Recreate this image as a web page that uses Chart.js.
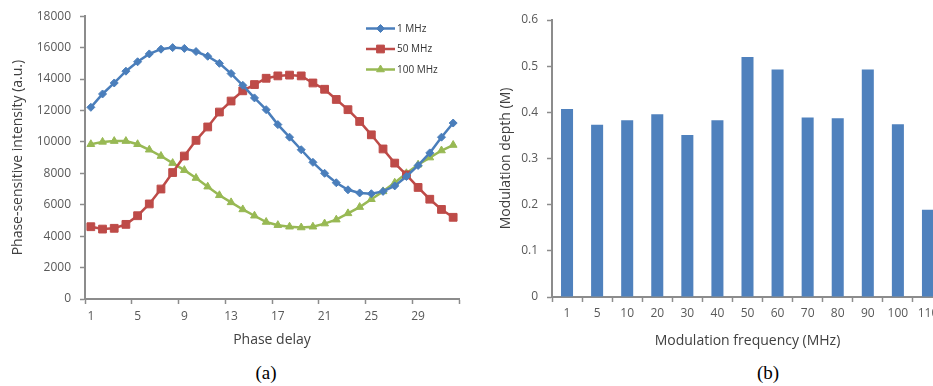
<!DOCTYPE html>
<html>
<head>
<meta charset="utf-8">
<script src="https://cdn.jsdelivr.net/npm/chart.js@4.4.0/dist/chart.umd.min.js"></script>
<style>
  html, body { margin: 0; padding: 0; background: #fff; overflow: hidden; width: 933px; height: 386px; }
  .box { position: absolute; top: 0; }
  .cap { position: absolute; font-family: "Liberation Serif", serif; font-size: 19px; color: #000; transform: translate(-50%, -50%); }
</style>
</head>
<body>
<div class="box" style="left:0px"><canvas id="phase" width="470" height="355"></canvas></div>
<div class="box" style="left:480px"><canvas id="depth" width="470" height="355"></canvas></div>
<div class="cap" style="left:266px; top:373px">(a)</div>
<div class="cap" style="left:768px; top:373px">(b)</div>
<script>
// (a) phase-sensitive intensity vs phase delay
const phaseDelay = ['1','2','3','4','5','6','7','8','9','10','11','12','13','14','15','16',
                    '17','18','19','20','21','22','23','24','25','26','27','28','29','30','31','32']
const mhz1 = [12200, 13050, 13750, 14500, 15100, 15600, 15900, 16000, 15950, 15750, 15450, 15000,
              14350, 13600, 12800, 12050, 11100, 10300, 9500, 8700, 8000, 7400, 6950, 6750,
              6700, 6850, 7200, 7800, 8500, 9300, 10300, 11200]
const mhz50 = [4600, 4450, 4500, 4750, 5300, 6050, 7000, 8050, 9100, 10100, 10950, 11900,
               12600, 13250, 13650, 14050, 14200, 14250, 14200, 13750, 13350, 12700, 12050, 11300,
               10450, 9550, 8650, 7900, 7100, 6350, 5700, 5200]
const mhz100 = [9850, 10000, 10050, 10050, 9850, 9500, 9100, 8650, 8200, 7700, 7150, 6600,
                6150, 5700, 5300, 4900, 4700, 4600, 4550, 4600, 4800, 5050, 5450, 5850,
                6350, 6850, 7400, 8000, 8550, 9000, 9450, 9800]

// (b) modulation depth vs frequency
const freqLabels = ['1','5','10','20','30','40','50','60','70','80','90','100','110']
const depth = [0.407, 0.373, 0.383, 0.396, 0.351, 0.383, 0.520, 0.493, 0.389, 0.387, 0.493, 0.374, 0.189]

const axisGray = '#8c8c8c'
const tickText = '#595959'
const titleText = '#404040'
const fontFam = '"Open Sans", sans-serif'

// small vertical legend in the top-right of the plot (Excel style)
const sideLegend = {
    id: 'sideLegend',
    afterDraw(chart) {
        const ctx = chart.ctx
        const x0 = chart.chartArea.left + 281
        ctx.save()
        ctx.font = '10px ' + fontFam
        ctx.textBaseline = 'middle'
        chart.data.datasets.forEach((ds, i) => {
            const y = 28.5 + i * 20.5
            ctx.strokeStyle = ds.borderColor
            ctx.lineWidth = ds.borderWidth
            ctx.beginPath()
            ctx.moveTo(x0, y)
            ctx.lineTo(x0 + 29, y)
            ctx.stroke()
            ctx.fillStyle = ds.pointBackgroundColor
            ctx.strokeStyle = ds.pointBorderColor
            ctx.lineWidth = 1
            Chart.helpers.drawPoint(ctx, { pointStyle: ds.pointStyle, radius: ds.pointRadius, rotation: 0, borderWidth: 1 }, x0 + 14.5, y)
            ctx.fillStyle = '#333'
            ctx.fillText(ds.label, x0 + 31, y + 0.5)
        })
        ctx.restore()
    }
}

function lineSet(label, data, color, style, r) {
    return {
        label: label,
        data: data,
        borderColor: color,
        backgroundColor: color,
        borderWidth: 2.5,
        pointStyle: style,
        pointRadius: r,
        pointBackgroundColor: color,
        pointBorderColor: color,
        pointBorderWidth: 1,
        tension: 0
    }
}

new Chart(document.getElementById('phase'), {
    type: 'line',
    data: {
        labels: phaseDelay,
        datasets: [
            lineSet('1 MHz', mhz1, '#4a7ebb', 'rectRot', 4),
            lineSet('50 MHz', mhz50, '#be4b48', 'rect', 5.5),
            lineSet('100 MHz', mhz100, '#98b954', 'triangle', 4.5)
        ]
    },
    options: {
        responsive: false,
        animation: false,
        layout: { padding: { top: 15, right: 11, left: 0, bottom: 0 } },
        plugins: { legend: { display: false }, tooltip: { enabled: false } },
        scales: {
            x: {
                offset: true,
                border: { color: axisGray, width: 2 },
                grid: {
                    offset: true,
                    drawOnChartArea: false,
                    tickLength: 5,
                    tickWidth: 1.5,
                    tickColor: c => (c.index === undefined || c.index % 4 === 0) ? axisGray : 'rgba(0,0,0,0)'
                },
                ticks: {
                    autoSkip: false,
                    maxRotation: 0,
                    padding: 5,
                    color: tickText,
                    font: { family: fontFam, size: 12 },
                    callback: (v, i) => i % 4 === 0 ? phaseDelay[i] : ''
                },
                title: {
                    display: true,
                    text: 'Phase delay',
                    color: titleText,
                    font: { family: fontFam, size: 14 },
                    padding: { top: 0, bottom: 7 }
                },
                afterFit: s => { s.height = 56 }
            },
            y: {
                min: 0,
                max: 18000,
                border: { color: axisGray, width: 2 },
                grid: { drawOnChartArea: false, tickLength: 5, tickWidth: 1.5, tickColor: axisGray },
                ticks: {
                    stepSize: 2000,
                    padding: 9,
                    color: tickText,
                    font: { family: fontFam, size: 12 },
                    callback: v => String(v)
                },
                title: {
                    display: true,
                    text: 'Phase-sensitive intensity (a.u.)',
                    color: titleText,
                    font: { family: fontFam, size: 14 },
                    padding: { top: 10, bottom: 0 }
                },
                afterFit: s => { s.width = 85 }
            }
        }
    },
    plugins: [sideLegend]
})

new Chart(document.getElementById('depth'), {
    type: 'bar',
    data: {
        labels: freqLabels,
        datasets: [{
            label: 'Modulation depth',
            data: depth,
            backgroundColor: '#4f81bd',
            barPercentage: 0.4,
            categoryPercentage: 1.0
        }]
    },
    options: {
        responsive: false,
        animation: false,
        layout: { padding: { top: 20, right: 7, left: 0, bottom: 0 } },
        plugins: { legend: { display: false }, tooltip: { enabled: false } },
        scales: {
            x: {
                border: { color: axisGray, width: 2 },
                grid: { offset: true, drawOnChartArea: false, tickLength: 5, tickWidth: 1.5, tickColor: axisGray },
                ticks: {
                    autoSkip: false,
                    maxRotation: 0,
                    padding: 4,
                    color: tickText,
                    font: { family: fontFam, size: 12 }
                },
                title: {
                    display: true,
                    text: 'Modulation frequency (MHz)',
                    color: titleText,
                    font: { family: fontFam, size: 14 },
                    padding: { top: 0, bottom: 6 }
                },
                afterFit: s => { s.height = 58 }
            },
            y: {
                min: 0,
                max: 0.6,
                border: { color: axisGray, width: 2 },
                grid: { drawOnChartArea: false, tickLength: 5, tickWidth: 1.5, tickColor: axisGray },
                ticks: {
                    stepSize: 0.1,
                    padding: 9,
                    color: tickText,
                    font: { family: fontFam, size: 12 }
                },
                title: {
                    display: true,
                    text: 'Modulation depth (M)',
                    color: titleText,
                    font: { family: fontFam, size: 14 },
                    padding: { top: 18, bottom: 0 }
                },
                afterFit: s => { s.width = 72 }
            }
        }
    }
})
</script>
</body>
</html>
